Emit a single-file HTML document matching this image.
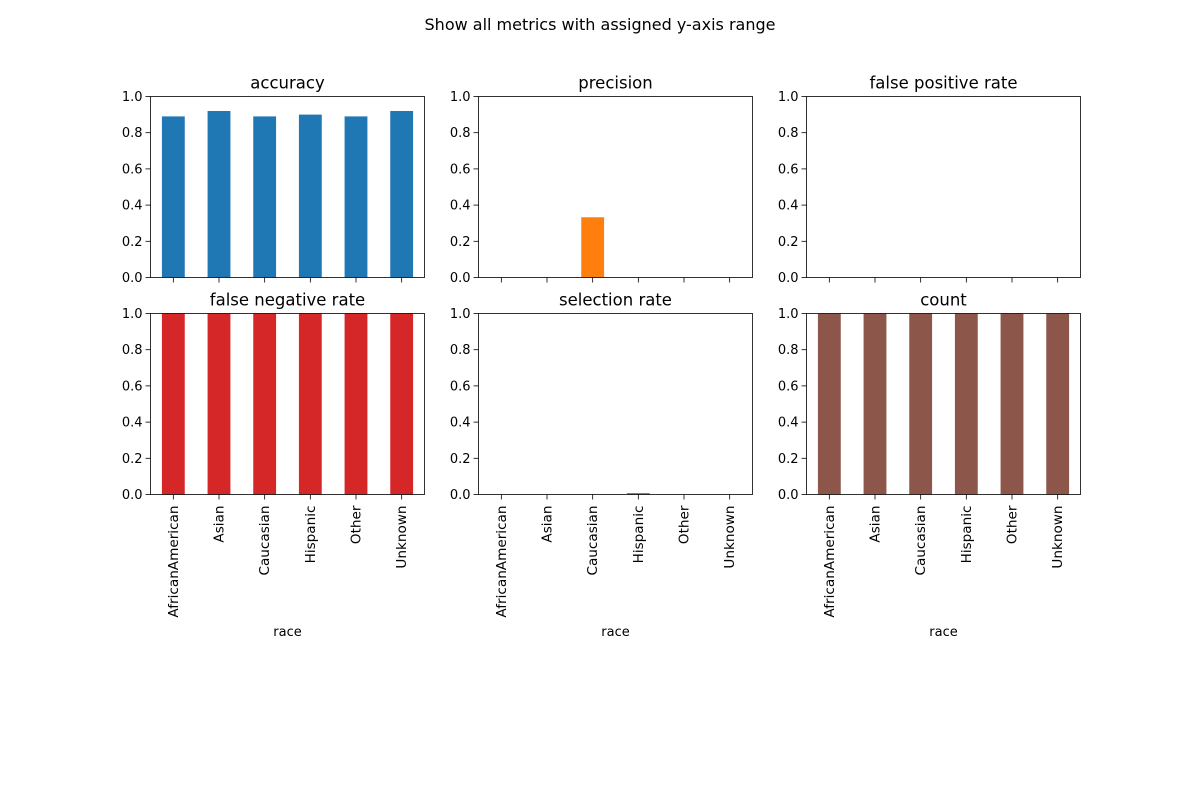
<!DOCTYPE html>
<html><head><style>body{margin:0;background:#fff}</style></head><body>
<svg id="s" width="1200" height="800" xmlns="http://www.w3.org/2000/svg" font-family="DejaVu Sans, Liberation Sans, sans-serif">
<rect width="1200" height="800" fill="#fff"/>
<text x="600" y="30" font-size="16" text-anchor="middle">Show all metrics with assigned y-axis range</text>
</svg>
<script>
var s=document.getElementById('s'),h='';
var cats=['AfricanAmerican','Asian','Caucasian','Hispanic','Other','Unknown'];
var panels=[
['accuracy','#1f77b4',[.89,.92,.89,.9,.89,.92]],
['precision','#ff7f0e',[0,0,.333,0,0,0]],
['false positive rate','#2ca02c',[0,0,0,0,0,0]],
['false negative rate','#d62728',[1,1,1,1,1,1]],
['selection rate','#9467bd',[0,0,0,.003,0,0]],
['count','#8c564b',[1,1,1,1,1,1]]];
var xs=[150.5,478.5,806.5],ys=[96.5,313.5],W=274,H=181;
panels.forEach(function(p,k){
 var x0=xs[k%3],y0=ys[Math.floor(k/3)],yb=y0+H,bot=k>=3;
 h+='<text x="'+(x0+W/2)+'" y="'+(y0-8)+'" font-size="16.5" text-anchor="middle">'+p[0]+'</text>';
 var sp=W/6;
 p[2].forEach(function(v,i){
  var c=x0+sp*(i+.5),bh=Math.max(v*H,v>0?1.5:0);
  if(bh>0)h+='<rect x="'+(c-sp/4)+'" y="'+(yb-bh)+'" width="'+(sp/2)+'" height="'+bh+'" fill="'+p[1]+'"/>';
  h+='<line x1="'+c+'" y1="'+yb+'" x2="'+c+'" y2="'+(yb+5)+'" stroke="#000" stroke-width="0.8"/>';
  if(bot)h+='<text transform="translate('+(c+4.5)+','+(yb+11)+') rotate(-90)" font-size="13.6" text-anchor="end">'+cats[i]+'</text>';
 });
 for(var t=0;t<=5;t++){var y=yb-t*H/5;
  h+='<line x1="'+(x0-5)+'" y1="'+y+'" x2="'+x0+'" y2="'+y+'" stroke="#000" stroke-width="0.8"/>';
  h+='<text x="'+(x0-8)+'" y="'+(y+4.5)+'" font-size="13" text-anchor="end">'+(t/5).toFixed(1)+'</text>';}
 h+='<rect x="'+x0+'" y="'+y0+'" width="'+W+'" height="'+H+'" fill="none" stroke="#000" stroke-width="0.8"/>';
 if(bot)h+='<text x="'+(x0+W/2)+'" y="636" font-size="13" text-anchor="middle">race</text>';
});
s.insertAdjacentHTML('beforeend',h);
</script>
</body></html>
